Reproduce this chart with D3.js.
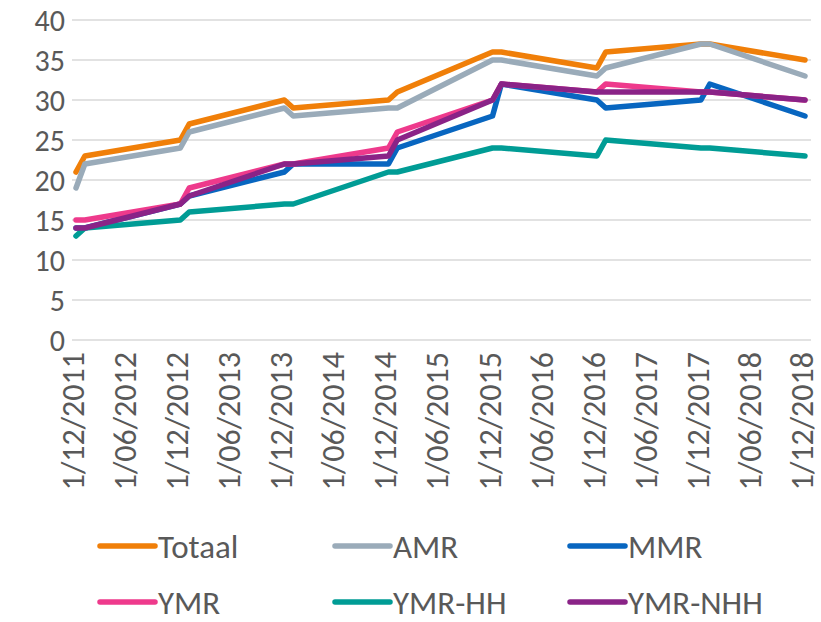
<!DOCTYPE html>
<html><head><meta charset="utf-8">
<script src="https://cdn.jsdelivr.net/npm/d3@7"></script>
<style>body{margin:0;background:#fff}svg{display:block}</style>
</head><body><svg id="c" width="821" height="622"></svg>
<script>
const dates = ["2011-12-01","2012-01-01","2012-12-01","2013-01-01","2013-12-01","2014-01-01","2014-12-01","2015-01-01","2015-12-01","2016-01-01","2016-12-01","2017-01-01","2017-12-01","2018-01-01","2018-12-01"];
const seriesNames = ["Totaal","AMR","MMR","YMR","YMR-HH","YMR-NHH"];
const totaal = [21,23,25,27,30,29,30,31,36,36,34,36,37,37,35];
const amr    = [19,22,24,26,29,28,29,29,35,35,33,34,37,37,33];
const mmr    = [14,14,17,18,21,22,22,24,28,32,30,29,30,32,28];
const ymr    = [15,15,17,19,22,22,24,26,30,32,31,32,31,31,30];
const ymrHH  = [13,14,15,16,17,17,21,21,24,24,23,25,24,24,23];
const ymrNHH = [14,14,17,18,22,22,23,25,30,32,31,31,31,31,30];
const yTicks = [0,5,10,15,20,25,30,35,40];
const colors = ["#F07F09","#9AABB9","#0866C0","#EE3A8C","#009C95","#8A2387"];

const values = [totaal, amr, mmr, ymr, ymrHH, ymrNHH];
const parse = d3.utcParse("%Y-%m-%d");
const pd = dates.map(parse);
const svg = d3.select("#c");
const font = "Carlito, Calibri, Lato, sans-serif";
const txt = "#595959";

const x = d3.scaleUtc().domain([pd[0], pd[pd.length-1]]).range([76, 805]);
const y = d3.scaleLinear().domain([0,40]).range([340,20]);

// gridlines
svg.append("g").selectAll("line").data(yTicks).join("line")
  .attr("x1",72).attr("x2",811).attr("y1",d=>y(d)).attr("y2",d=>y(d))
  .attr("stroke","#D9D9D9").attr("stroke-width",1.5);

// y labels
svg.append("g").selectAll("text").data(yTicks).join("text")
  .attr("x",65).attr("y",d=>y(d)).attr("dy","0.36em").attr("text-anchor","end")
  .attr("font-family",font).attr("font-size",30).attr("fill",txt).text(d=>d);

// x tick labels (every 6 months starting at first date)
const xTicks = d3.utcMonth.range(pd[0], d3.utcDay.offset(pd[pd.length-1],1), 6);
const fmt = d => `${d.getUTCDate()}/${String(d.getUTCMonth()+1).padStart(2,"0")}/${d.getUTCFullYear()}`;
svg.append("g").selectAll("text").data(xTicks).join("text")
  .attr("transform",d=>`translate(${x(d)},352) rotate(-90)`)
  .attr("dy","0.25em").attr("text-anchor","end")
  .attr("font-family",font).attr("font-size",32).attr("fill",txt).text(fmt);

// lines
const line = d3.line().x((d,i)=>x(pd[i])).y(d=>y(d));
svg.append("g").selectAll("path").data(values).join("path")
  .attr("d",line).attr("fill","none").attr("stroke",(d,i)=>colors[i])
  .attr("stroke-width",5.5).attr("stroke-linejoin","round").attr("stroke-linecap","round");

// legend
const legX = [100,335,570], legY = [546,602];
const lg = svg.append("g").selectAll("g").data(seriesNames).join("g")
  .attr("transform",(d,i)=>`translate(${legX[i%3]},${legY[Math.floor(i/3)]})`);
lg.append("line").attr("x1",0).attr("x2",55).attr("stroke",(d,i)=>colors[i])
  .attr("stroke-width",5.5).attr("stroke-linecap","round");
lg.append("text").attr("x",58).attr("dy","0.35em").attr("font-family",font)
  .attr("font-size",33).attr("fill",txt).text(d=>d);
</script></body></html>
